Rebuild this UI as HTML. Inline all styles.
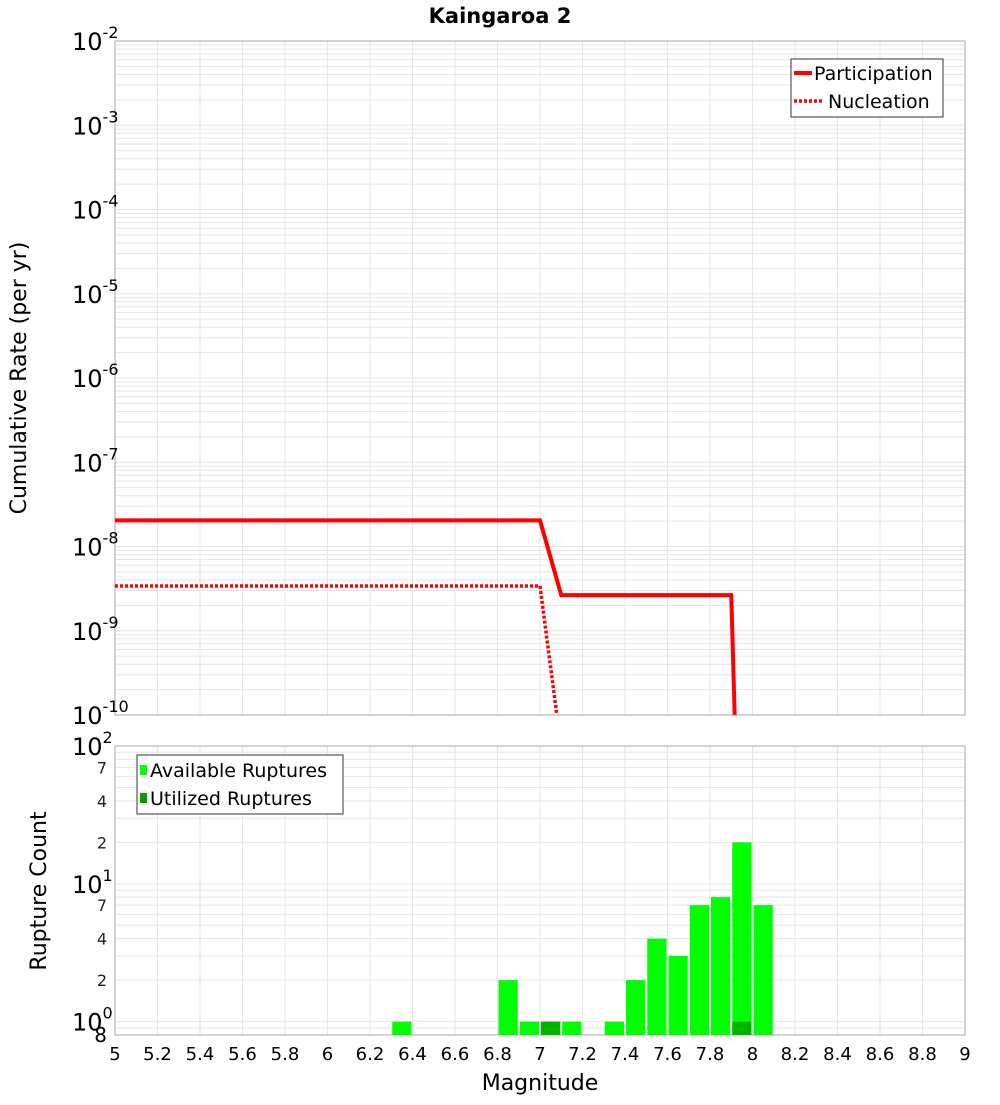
<!DOCTYPE html>
<html><head><meta charset="utf-8"><style>
body{margin:0;background:#fff;}
svg text{font-family:"DejaVu Sans","Liberation Sans",sans-serif;}
</style></head><body>
<svg id="chart" width="1000" height="1100" xmlns="http://www.w3.org/2000/svg">
<rect width="1000" height="1100" fill="#fff"/>
<text x="500" y="23" text-anchor="middle" font-size="21" font-weight="bold">Kaingaroa 2</text>
<g id="topg"></g><g id="botg"></g>
<text transform="translate(26,378) rotate(-90)" text-anchor="middle" font-size="22">Cumulative Rate (per yr)</text>
<text transform="translate(46,891) rotate(-90)" text-anchor="middle" font-size="22">Rupture Count</text>
<text x="540" y="1090" text-anchor="middle" font-size="22">Magnitude</text>
</svg>
<script>
const partMag=[5,7.0,7.1,7.9,7.95];
const partRate=[2.04e-8,2.04e-8,2.65e-9,2.65e-9,1e-13];
const nuclMag=[5,7.0,7.1];
const nuclRate=[3.4e-9,3.4e-9,4e-11];
const binMag=[6.35,6.85,6.95,7.05,7.15,7.35,7.45,7.55,7.65,7.75,7.85,7.95,8.05];
const availCount=[1,2,1,1,1,1,2,4,3,7,8,20,7];
const usedCount=[0,0,0,1,0,0,0,0,0,0,0,1,0];
const xTicks=[5,5.2,5.4,5.6,5.8,6,6.2,6.4,6.6,6.8,7,7.2,7.4,7.6,7.8,8,8.2,8.4,8.6,8.8,9];
const topExps=[-2,-3,-4,-5,-6,-7,-8,-9,-10];
const botExps=[0,1,2];
const botMinor=[2,4,7];

const NS="http://www.w3.org/2000/svg";
const L=115,R=965,T1=41,B1=715,T2=746,B2=1035;
const x=m=>L+(m-5)/4*(R-L);
const y1=v=>B1-(Math.log10(v)+10)/8*(B1-T1);
const lb=Math.log10(0.8);
const y2=v=>B2-(Math.log10(v)-lb)/(2-lb)*(B2-T2);
function mk(p,tag,a,name,txt){const e=document.createElementNS(NS,tag);for(const k in a)e.setAttribute(k,a[k]);


if(txt!==undefined)e.textContent=txt;p.appendChild(e);return e;}
const topG=document.getElementById('topg'),botG=document.getElementById('botg');
for(const m of xTicks){mk(topG,'line',{x1:x(m),x2:x(m),y1:T1,y2:B1,stroke:'#e6e6e6'},'x-grid');mk(botG,'line',{x1:x(m),x2:x(m),y1:T2,y2:B2,stroke:'#e6e6e6'},'x-grid');}
for(let e=-10;e<-2;e++)for(let k=1;k<10;k++){const yy=y1(k*Math.pow(10,e));mk(topG,'line',{x1:L,x2:R,y1:yy,y2:yy,stroke:'#e6e6e6'},'y-grid');}
for(let e=-1;e<2;e++)for(let k=1;k<10;k++){const v=k*Math.pow(10,e);if(v<0.8)continue;const yy=y2(v);mk(botG,'line',{x1:L,x2:R,y1:yy,y2:yy,stroke:'#e6e6e6'},'y-grid');}
mk(topG,'rect',{x:L,y:T1,width:R-L,height:B1-T1,fill:'none',stroke:'#aaa'},'plot-frame-top');
mk(botG,'rect',{x:L,y:T2,width:R-L,height:B2-T2,fill:'none',stroke:'#aaa'},'plot-frame-bottom');
for(const e of topExps){const yy=y1(Math.pow(10,e));const t=mk(topG,'text',{x:72,y:yy+9,'font-size':24},'y-tick-label','10');
const s=document.createElementNS(NS,'tspan');s.setAttribute('dy','-12');s.setAttribute('font-size','16');s.textContent=String(e);t.appendChild(s);}
for(const e of botExps){const yy=y2(Math.pow(10,e));const t=mk(botG,'text',{x:72,y:yy+9,'font-size':24},'y-tick-label','10');
const s=document.createElementNS(NS,'tspan');s.setAttribute('dy','-12');s.setAttribute('font-size','16');s.textContent=String(e);t.appendChild(s);}
for(let e=0;e<2;e++)for(const k of botMinor){mk(botG,'text',{x:107,y:y2(k*Math.pow(10,e))+6,'font-size':16,'text-anchor':'end',fill:'#222'},'y-minor-label',String(k));}
mk(botG,'text',{x:107,y:1042,'font-size':20,'text-anchor':'end'},'y-minor-label','8');
for(const m of xTicks){mk(botG,'text',{x:x(m),y:1060,'font-size':18,'text-anchor':'middle'},'x-tick-label',String(m));}
const cp=document.createElementNS(NS,'clipPath');cp.setAttribute('id','c1');mk(cp,'rect',{x:L,y:T1,width:R-L,height:B1-T1},'clip');topG.appendChild(cp);
const g=mk(topG,'g',{'clip-path':'url(#c1)'},'series-group');
mk(g,'polyline',{points:partMag.map((m,i)=>x(m)+','+y1(partRate[i])).join(' '),fill:'none',stroke:'#f00','stroke-width':4},'participation-line');
mk(g,'polyline',{points:nuclMag.map((m,i)=>x(m)+','+y1(nuclRate[i])).join(' '),fill:'none',stroke:'#f00','stroke-width':3.5,'stroke-dasharray':'3,2'},'nucleation-line');
binMag.forEach((m,i)=>{const x0=x(m-0.05)+1,w=x(m+0.05)-x(m-0.05)-2;const yy=y2(availCount[i]);
mk(botG,'rect',{x:x0,y:yy,width:w,height:B2-yy,fill:'#00ff00'},'available-bar');
if(usedCount[i]>0){const yu=y2(usedCount[i]);mk(botG,'rect',{x:x0,y:yu,width:w,height:B2-yu,fill:'#00b400'},'utilized-bar');}});
mk(topG,'rect',{x:791,y:59,width:152,height:58,fill:'#fff',stroke:'#333'},'legend-top');
mk(topG,'line',{x1:794,x2:812,y1:73,y2:73,stroke:'#f00','stroke-width':4},'legend-participation-swatch');
mk(topG,'text',{x:814,y:80,'font-size':19},'legend-participation-label','Participation');
mk(topG,'line',{x1:794,x2:822,y1:101,y2:101,stroke:'#f00','stroke-width':3.5,'stroke-dasharray':'3,2'},'legend-nucleation-swatch');
mk(topG,'text',{x:828,y:108,'font-size':19},'legend-nucleation-label','Nucleation');
mk(botG,'rect',{x:137,y:755,width:206,height:59,fill:'#fff',stroke:'#333'},'legend-bottom');
mk(botG,'rect',{x:140,y:765,width:7,height:10,fill:'#00ff00'},'legend-available-swatch');
mk(botG,'text',{x:150,y:777,'font-size':19},'legend-available-label','Available Ruptures');
mk(botG,'rect',{x:140,y:793,width:7,height:10,fill:'#00a000'},'legend-utilized-swatch');
mk(botG,'text',{x:150,y:805,'font-size':19},'legend-utilized-label','Utilized Ruptures');
</script>
</body></html>
